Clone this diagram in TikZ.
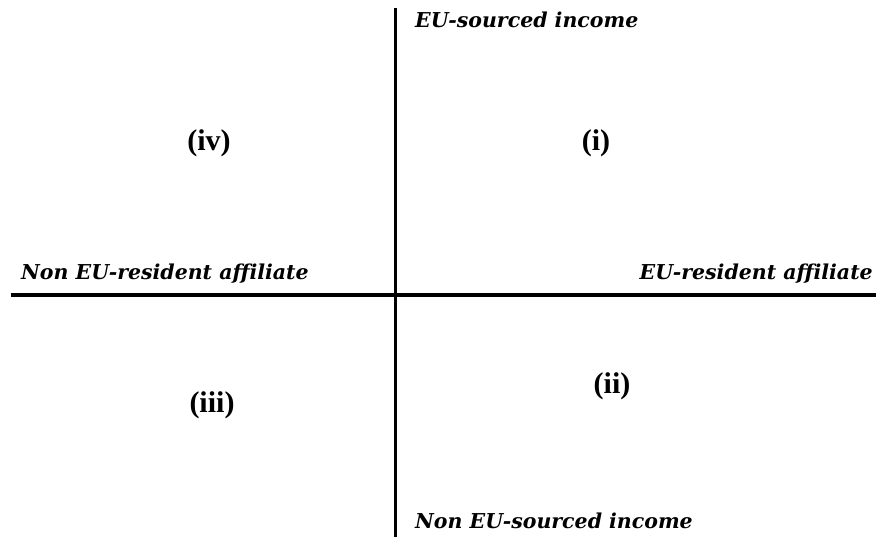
\documentclass[tikz,border=0pt]{standalone}
\usepackage{fontspec}
\setmainfont{Liberation Serif}
\newfontfamily\labfont{DejaVu Serif}
\tikzset{
  axis/.style={line width=3.6pt, line cap=butt},
  axlabel/.style={inner sep=0pt, font=\labfont\bfseries\itshape\fontsize{20.5}{24}\selectfont},
  quad/.style={inner sep=0pt, font=\bfseries\fontsize{30}{36}\selectfont}
}
\begin{document}
\begin{tikzpicture}[x=1pt,y=-1pt]
\useasboundingbox (0,0) rectangle (876,537);
\coordinate (vtop) at (395.5,8);
\coordinate (vbot) at (395.5,537);
\coordinate (hl) at (11,295);
\coordinate (hr) at (876,295);
\draw[axis] (vtop) -- (vbot);
\draw[axis] (hl) -- (hr);
\node[axlabel, anchor=base west] (top) at (415,28) {EU-sourced income};
\node[axlabel, anchor=base west] (left) at (21,280) {Non EU-resident affiliate};
\node[axlabel, anchor=base east] (right) at (873,280) {EU-resident affiliate};
\node[axlabel, anchor=base west] (bot) at (415,528) {Non EU-sourced income};
\node[quad] (q4) at (209,143) {(iv)};
\node[quad] (q1) at (596,143) {(i)};
\node[quad] (q3) at (212,405) {(iii)};
\node[quad] (q2) at (612,386) {(ii)};
\end{tikzpicture}
\end{document}
